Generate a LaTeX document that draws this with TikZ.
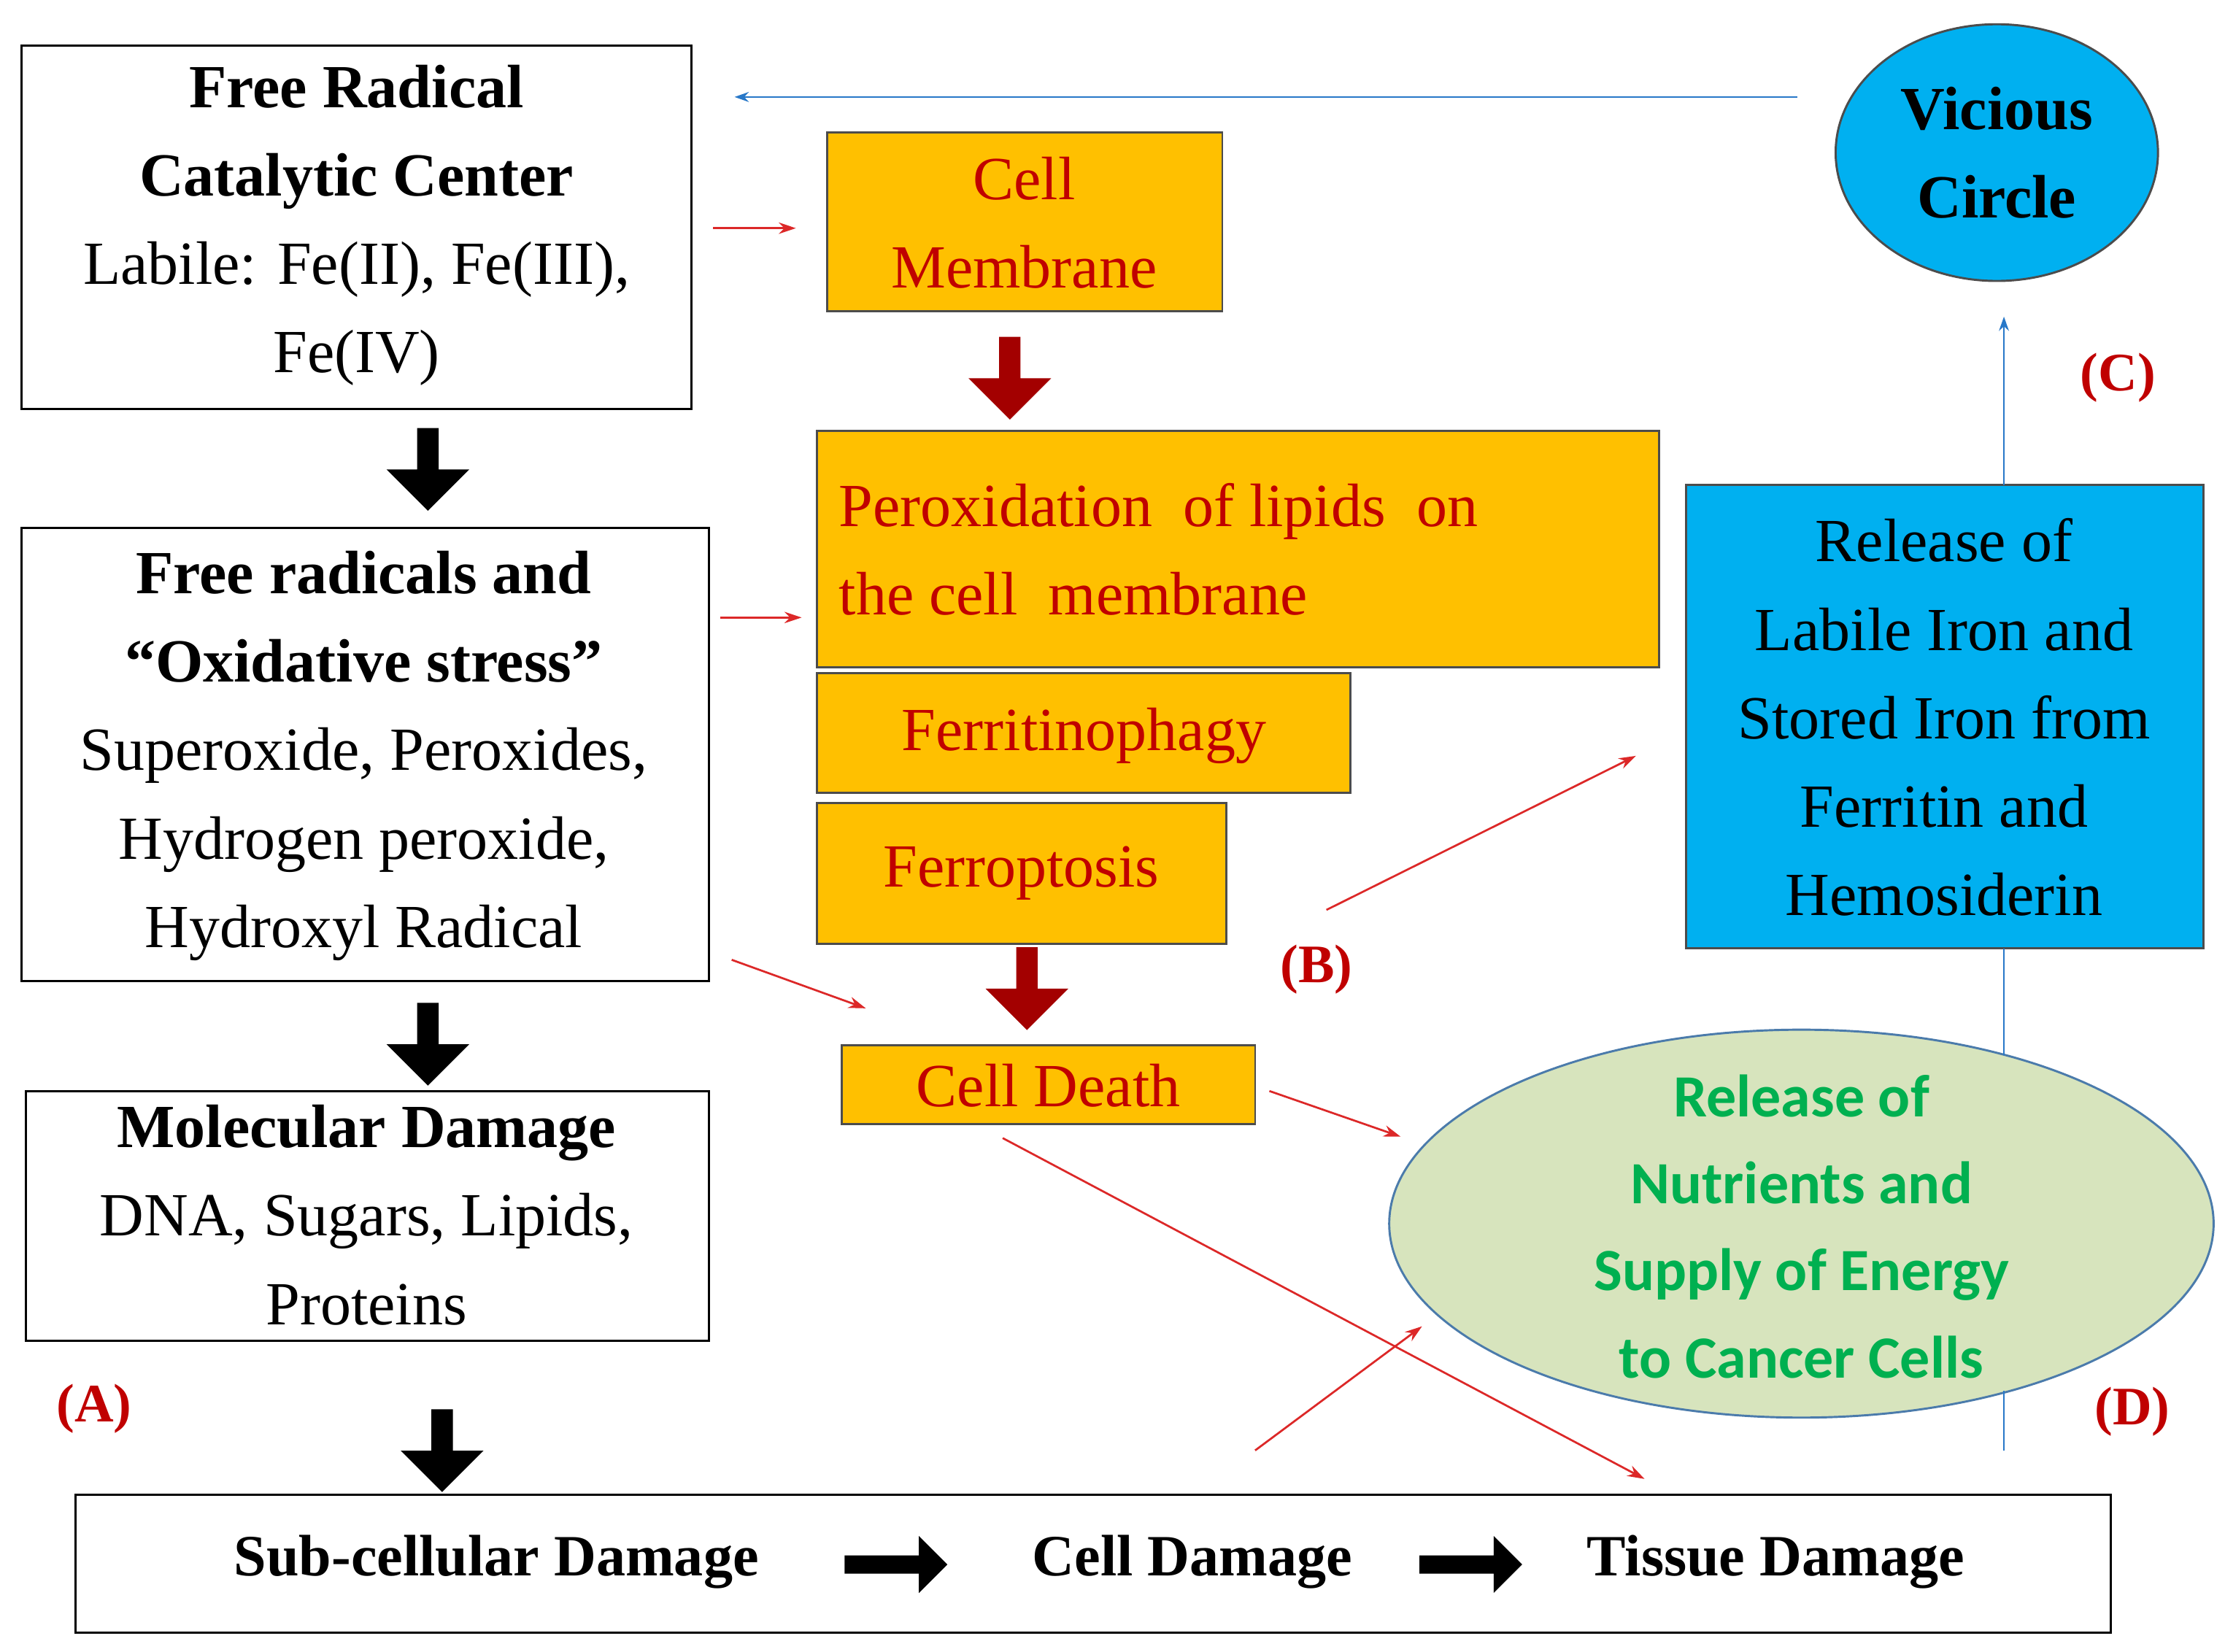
\documentclass[tikz,border=0pt]{standalone}
\usepackage{fontspec}
\setmainfont{Liberation Serif}
\newfontfamily\calib{Carlito}
\usetikzlibrary{shapes.arrows,shapes.geometric,arrows.meta}
\definecolor{orng}{RGB}{255,192,0}
\definecolor{sky}{RGB}{0,176,240}
\definecolor{dred}{RGB}{192,0,0}
\definecolor{ared}{RGB}{220,40,40}
\definecolor{lblue}{RGB}{40,120,200}
\definecolor{sage}{RGB}{215,228,189}
\definecolor{grn}{RGB}{0,176,80}
\begin{document}
\begin{tikzpicture}[x=1pt,y=1pt,yscale=-1,
  txt/.style={font=\fontsize{43}{62}\selectfont,align=center,inner sep=0},
  box/.style={draw,line width=1.5pt},
  obox/.style={draw=black!70,fill=orng,line width=1.5pt},
  fat/.style={single arrow,draw=none,fill=black,minimum height=58pt,minimum width=58pt,single arrow head extend=12pt,single arrow head indent=0pt,inner sep=4pt,anchor=tail},
  fatred/.style={fat,fill=dred!85!black},
  thin/.style={-{Stealth[length=12pt,width=8pt]},ared,line width=1.4pt},
  bl/.style={lblue,line width=1.4pt},
  lab/.style={font=\fontsize{38}{40}\selectfont\bfseries,text=dred}]
\useasboundingbox (0,0) rectangle (1560,1158);
% boxes
\draw[box] (15,32) rectangle (485,287);
\draw[box] (15,370) rectangle (497,688);
\draw[box] (18,765) rectangle (497,940);
\draw[box] (53,1048) rectangle (1480,1145);
\node[txt] (b1) at (250,158) {\bfseries Free Radical\\\bfseries Catalytic Center\\Labile: Fe(II), Fe(III),\\Fe(IV)};
\node[txt] (b2) at (255,530) {\bfseries Free radicals and\\\bfseries “Oxidative stress”\\Superoxide, Peroxides,\\Hydrogen peroxide,\\Hydroxyl Radical};
\node[txt] (b3) at (257,852) {\bfseries Molecular Damage\\DNA, Sugars, Lipids,\\Proteins};
\node[txt,font=\fontsize{41}{44}\selectfont\bfseries] (s1) at (348,1095) {Sub-cellular Damage};
\node[txt,font=\fontsize{41}{44}\selectfont\bfseries] (s2) at (836,1095) {Cell Damage};
\node[txt,font=\fontsize{41}{44}\selectfont\bfseries] (s3) at (1245,1095) {Tissue Damage};
% orange boxes
\draw[obox] (580,93) rectangle (857,218);
\node[txt,text=dred] (cm) at (718,156) {Cell\\Membrane};
\draw[obox] (573,302) rectangle (1163,468);
\node[txt,text=dred,align=left,anchor=west] (pl) at (588,385) {Peroxidation \ of lipids \ on\\the cell \ membrane};
\draw[obox] (573,472) rectangle (947,556);
\node[txt,text=dred] (fp) at (760,516) {Ferritinophagy};
\draw[obox] (573,563) rectangle (860,662);
\node[txt,text=dred] (fr) at (716,612) {Ferroptosis};
\draw[obox] (590,733) rectangle (880,788);
\node[txt,text=dred] (cd) at (735,761) {Cell Death};
% blue
\draw[fill=sky,draw=black!70,line width=1.5pt] (1182,340) rectangle (1545,665);
\node[txt] (rl) at (1363,503) {Release of\\Labile Iron and\\Stored Iron from\\Ferritin and\\Hemosiderin};
\node[ellipse,draw=black!70,fill=sky,line width=1.5pt,minimum width=226pt,minimum height=180pt,txt,font=\fontsize{43}{62}\selectfont\bfseries] (vc) at (1400,107) {Vicious\\Circle};
\node[ellipse,draw=lblue!60!gray,fill=sage,line width=1.5pt,minimum width=578pt,minimum height=272pt] (nu) at (1263,858) {};
\node[txt,font=\calib\fontsize{42}{61}\selectfont\bfseries,text=grn] (nt) at (1263,860) {Release of\\Nutrients and\\Supply of Energy\\to Cancer Cells};
% labels
\node[lab] (la) at (66,988) {(A)};
\node[lab] (lb) at (923,680) {(B)};
\node[lab] (lc) at (1485,265) {(C)};
\node[lab] (ld) at (1495,990) {(D)};
% fat arrows
\node[fat,rotate=-90] (f1) at (300,300) {};
\node[fat,rotate=-90] (f2) at (300,703) {};
\node[fat,rotate=-90] (f3) at (310,988) {};
\node[fat,anchor=west,minimum height=72pt,minimum width=40pt,single arrow head extend=9pt] (f4) at (592,1097) {};
\node[fat,anchor=west,minimum height=72pt,minimum width=40pt,single arrow head extend=9pt] (f5) at (995,1097) {};
\node[fatred,rotate=-90] (f6) at (708,236) {};
\node[fatred,rotate=-90] (f7) at (720,664) {};
% thin arrows
\coordinate (p1) at (500,160); \coordinate (q1) at (558,160);
\coordinate (p2) at (505,433); \coordinate (q2) at (562,433);
\coordinate (p3) at (513,673); \coordinate (q3) at (607,707);
\coordinate (p4) at (890,765); \coordinate (q4) at (982,797);
\coordinate (p5) at (930,638); \coordinate (q5) at (1147,530);
\coordinate (p6) at (880,1017); \coordinate (q6) at (997,930);
\coordinate (p7) at (703,798); \coordinate (q7) at (1153,1037);
\foreach \i in {1,...,7} \draw[thin] (p\i) -- (q\i);
\coordinate (v1) at (1260,68); \coordinate (v2) at (515,68);
\draw[bl,-{Stealth[length=10pt,width=7pt]}] (v1) -- (v2);
\coordinate (v3) at (1405,340); \coordinate (v4) at (1405,222);
\draw[bl,-{Stealth[length=10pt,width=7pt]}] (v3) -- (v4);
\coordinate (v5) at (1405,665); \coordinate (v6) at (1405,740);
\draw[bl] (v5) -- (v6);
\coordinate (v7) at (1405,975); \coordinate (v8) at (1405,1017);
\draw[bl] (v7) -- (v8);
\end{tikzpicture}
\end{document}
